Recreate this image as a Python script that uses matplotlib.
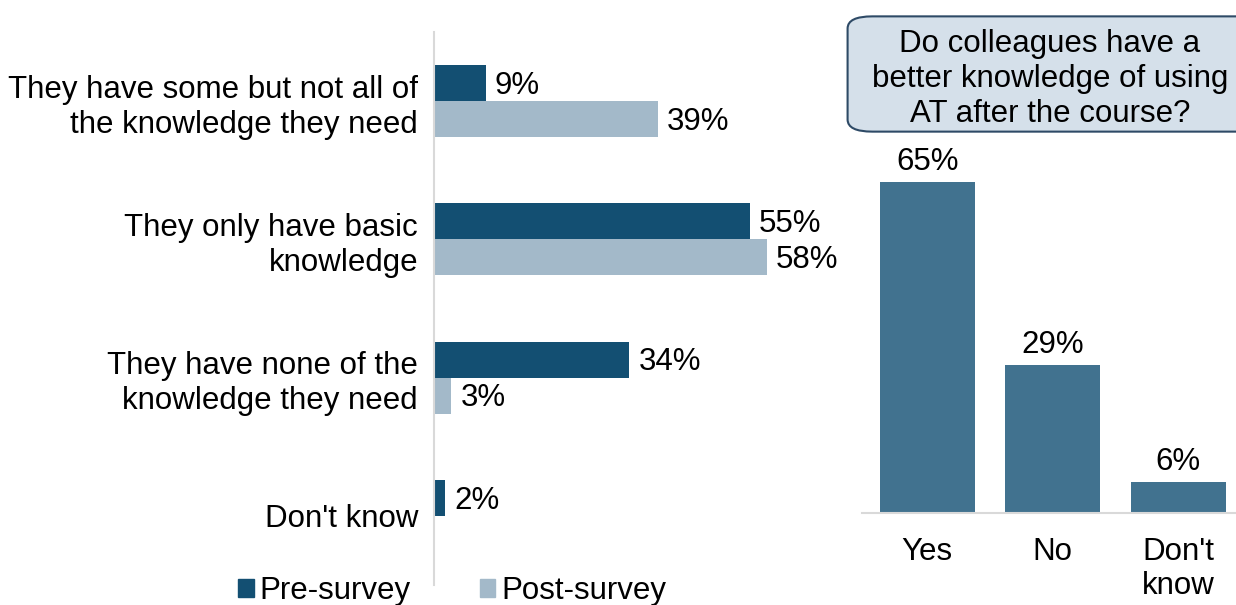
import matplotlib.pyplot as plt
from matplotlib.patches import Patch, FancyBboxPatch

plt.rcParams['font.family'] = ['Liberation Sans', 'DejaVu Sans']

# left chart: knowledge level before / after
levels = ["They have some but not all of\nthe knowledge they need",
          "They only have basic\nknowledge",
          "They have none of the\nknowledge they need",
          "Don't know"]
pre_vals = [9, 55, 34, 2]
post_vals = [39, 58, 3, None]

# right chart: better knowledge after the course
answers = ["Yes", "No", "Don't\nknow"]
answer_vals = [65, 29, 6]
question = "Do colleagues have a\nbetter knowledge of using\nAT after the course?"

PRE = "#134f72"
POST = "#a3b9c9"
SINGLE = "#41728f"
FS = 22.5

W, H = 1236, 605
fig = plt.figure(figsize=(W / 100, H / 100), dpi=100)


def px_axes(x0, y0, x1, y1):
    # pixel box (top-left origin) -> figure axes
    return fig.add_axes([x0 / W, 1 - y1 / H, (x1 - x0) / W, (y1 - y0) / H])


ax = px_axes(434, 32, 840, 585)
bh = 0.26
ypos = list(range(len(levels)))
for i in ypos:
    ax.barh(i - bh / 2, pre_vals[i], height=bh, color=PRE)
    ax.text(pre_vals[i] + 1.6, i - bh / 2 + 0.02, f"{pre_vals[i]}%", va="center", ha="left", fontsize=FS)
    if post_vals[i] is not None:
        ax.barh(i + bh / 2, post_vals[i], height=bh, color=POST)
        ax.text(post_vals[i] + 1.6, i + bh / 2 + 0.02, f"{post_vals[i]}%", va="center", ha="left", fontsize=FS)
ax.set_ylim(3.5, -0.5)
ax.set_xlim(0, 406 / 5.74)
ax.set_yticks(ypos)
ax.set_yticklabels(levels, fontsize=FS, ha="right", multialignment="right", linespacing=1.22)
ax.tick_params(axis="y", length=0, pad=11.5)
ax.set_xticks([])
for s in ["top", "right", "bottom"]:
    ax.spines[s].set_visible(False)
ax.spines["left"].set_color("#d9d9d9")
ax.spines["left"].set_linewidth(1.5)

fig.legend(handles=[Patch(color=PRE, label="Pre-survey"), Patch(color=POST, label="Post-survey")],
           loc="center left", bbox_to_anchor=(238 / W, 1 - 591 / H), ncol=2, frameon=False,
           fontsize=FS, handlelength=0.5, handleheight=0.5, handletextpad=0.2,
           columnspacing=2.2, borderaxespad=0, borderpad=0)

# right chart
ax2 = px_axes(862, 140, 1236, 513)
xpos = list(range(len(answers)))
ax2.bar(xpos, answer_vals, width=0.76, color=SINGLE)
for x, v in zip(xpos, answer_vals):
    ax2.text(x, v + 1.0, f"{v}%", ha="center", va="bottom", fontsize=FS)
ax2.set_xlim(-0.52, 2.46)
ax2.set_ylim(0, 373 / 5.09)
ax2.set_xticks(xpos)
ax2.set_xticklabels(answers, fontsize=FS)
ax2.tick_params(axis="x", length=0, pad=17)
ax2.set_yticks([])
for s in ["top", "right", "left"]:
    ax2.spines[s].set_visible(False)
ax2.spines["bottom"].set_color("#d9d9d9")
ax2.spines["bottom"].set_linewidth(1.5)

box = FancyBboxPatch((855 / W, 1 - 128 / H), 420 / W, 108 / H,
                     boxstyle="round,pad=0.006,rounding_size=0.02",
                     transform=fig.transFigure, facecolor="#d5e0ea", edgecolor="#2e4a66",
                     linewidth=1.5, clip_on=False)
fig.add_artist(box)
fig.text(1050 / W, 1 - 79 / H, question, ha="center", va="center", fontsize=FS, linespacing=1.22)

fig.savefig("out.png", dpi=100)
